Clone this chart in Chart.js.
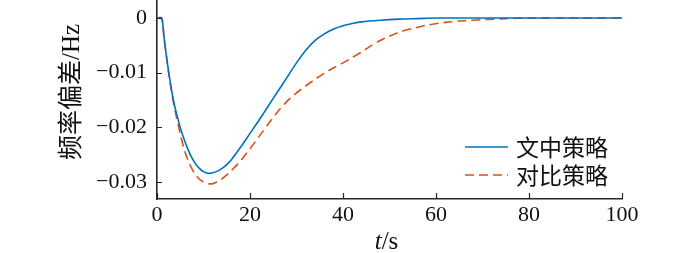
<!DOCTYPE html>
<html>
<head>
<meta charset="utf-8">
<script src="https://cdn.jsdelivr.net/npm/chart.js@4.4.1/dist/chart.umd.min.js"></script>
<style>
html,body{margin:0;padding:0;background:#fff;}
#wrap{width:700px;height:253px;position:relative;}
</style>
</head>
<body>
<div id="wrap"><canvas id="c" width="700" height="253"></canvas></div>
<script>
// ---- data ----
const seriesNames = ['文中策略', '对比策略'];
const blueT = [0,1,1.5,2,2.5,3,3.5,4,5,6,7,8,9,10,11,12,13,14,15,16,18,20,22,24,26,28,30,32,34,36,38,40,42,44,48,52,56,60,70,80,90,100];
const blueV = [0,0,-0.0035,-0.0068,-0.0098,-0.0125,-0.0149,-0.0168,-0.0200,-0.0226,-0.0247,-0.0263,-0.0274,-0.0281,-0.0284,-0.0283,-0.0280,-0.0275,-0.0268,-0.0259,-0.0236,-0.0211,-0.0186,-0.0160,-0.0134,-0.0108,-0.0082,-0.0059,-0.0041,-0.0029,-0.0020,-0.0014,-0.0010,-0.0007,-0.0004,-0.0002,-0.0001,0,0,0,0,0];
const redT = [0,1,1.5,2,2.5,3,3.5,4,5,6,7,8,9,10,11,12,13,14,15,16,18,20,22,24,26,28,30,32,34,36,38,40,42,44,46,48,50,52,55,58,62,66,70,75,80,90,100];
const redV = [0,0,-0.0035,-0.0069,-0.0100,-0.0128,-0.0153,-0.0174,-0.0212,-0.0244,-0.0267,-0.0283,-0.0294,-0.0300,-0.0303,-0.0303,-0.0299,-0.0294,-0.0287,-0.0279,-0.0261,-0.0239,-0.0216,-0.0193,-0.0171,-0.0152,-0.0137,-0.0124,-0.0112,-0.0101,-0.0091,-0.0082,-0.0072,-0.0062,-0.0051,-0.0041,-0.0033,-0.0026,-0.0019,-0.0013,-0.0008,-0.0005,-0.0003,-0.0001,0,0,0];
const xTicks = [0,20,40,60,80,100];
const yTicks = [-0.03,-0.02,-0.01,0];
const yTickLabels = ['\u22120.03','\u22120.02','\u22120.01','0'];
const yTitle = '频率偏差/Hz';
const xTitleItalic = 't';
const xTitleRest = '/s';

const toPts = (t, v) => t.map((x, i) => ({x: x, y: v[i]}));
const serif = "'Liberation Serif', 'Noto Sans CJK SC', serif";
const cjk = "'Noto Sans CJK SC', 'Liberation Serif', sans-serif";
const AX = '#262626';
const FS = 22;
const TS = 25;

const decor = {
  id: 'decor',
  afterDraw(chart) {
    const ctx = chart.ctx;
    const xs = chart.scales.x, ys = chart.scales.y;
    const ca = chart.chartArea;
    ctx.save();
    // inward ticks
    ctx.strokeStyle = AX; ctx.lineWidth = 1.2;
    ctx.beginPath();
    yTicks.forEach(v => {
      const py = Math.round(ys.getPixelForValue(v)) + 0.5;
      ctx.moveTo(ca.left, py); ctx.lineTo(ca.left + 5, py);
    });
    xTicks.forEach(v => {
      const px = Math.round(xs.getPixelForValue(v)) + 0.5;
      ctx.moveTo(px, ca.bottom); ctx.lineTo(px, ca.bottom - 6);
    });
    ctx.stroke();
    // y title
    ctx.fillStyle = '#111';
    ctx.save();
    ctx.translate(72, 92);
    ctx.rotate(-Math.PI / 2);
    ctx.font = TS + "px " + serif;
    ctx.textAlign = 'center'; ctx.textBaseline = 'middle';
    ctx.fillText(yTitle, 0, 0);
    ctx.restore();
    // x title
    ctx.font = "italic " + TS + "px " + serif;
    const w1 = ctx.measureText(xTitleItalic).width;
    ctx.font = TS + "px " + serif;
    const w2 = ctx.measureText(xTitleRest).width;
    const cx = (ca.left + ca.right) / 2 - 3;
    const x0 = cx - (w1 + w2) / 2;
    ctx.textBaseline = 'alphabetic'; ctx.textAlign = 'left';
    ctx.font = "italic " + TS + "px " + serif;
    ctx.fillText(xTitleItalic, x0, 249);
    ctx.font = TS + "px " + serif;
    ctx.fillText(xTitleRest, x0 + w1, 249);
    // legend
    const ds = chart.data.datasets;
    const rows = [147, 175];
    ds.forEach((d, i) => {
      const y = rows[i];
      ctx.strokeStyle = d.borderColor; ctx.lineWidth = d.borderWidth;
      ctx.setLineDash(d.borderDash || []);
      ctx.beginPath(); ctx.moveTo(ca.right - 157, y); ctx.lineTo(ca.right - 114, y); ctx.stroke();
      ctx.setLineDash([]);
      ctx.fillStyle = '#111';
      ctx.font = "23px " + cjk;
      ctx.textBaseline = 'middle';
      ctx.fillText(d.label, ca.right - 106, y);
    });
    ctx.restore();
  }
};

new Chart(document.getElementById('c'), {
  type: 'line',
  data: {
    datasets: [
      {label: seriesNames[0], data: toPts(blueT, blueV), borderColor: '#0072BD', borderWidth: 1.6, pointRadius: 0, tension: 0.3, fill: false},
      {label: seriesNames[1], data: toPts(redT, redV), borderColor: '#D95319', borderWidth: 1.6, borderDash: [9, 5], pointRadius: 0, tension: 0.3, fill: false}
    ]
  },
  options: {
    responsive: false,
    animation: false,
    devicePixelRatio: 1,
    layout: {padding: {left: 0, right: 78, top: 0, bottom: 0}},
    plugins: {legend: {display: false}, tooltip: {enabled: false}},
    scales: {
      x: {
        type: 'linear', min: 0, max: 100,
        afterBuildTicks: s => { s.ticks = xTicks.map(v => ({value: v})); },
        afterFit: s => { s.height = 54; s.paddingLeft = 0; s.paddingRight = 0; },
        grid: {display: false, drawTicks: false},
        border: {display: true, color: AX, width: 1.6},
        ticks: {color: '#111', font: {family: serif, size: FS}, padding: 3, maxRotation: 0}
      },
      y: {
        type: 'linear', min: -0.0331, max: 0.0033,
        afterBuildTicks: s => { s.ticks = yTicks.map(v => ({value: v})); },
        afterFit: s => { s.width = 157; s.paddingTop = 0; s.paddingBottom = 0; },
        grid: {display: false, drawTicks: false},
        border: {display: true, color: AX, width: 1.6},
        ticks: {color: '#111', font: {family: serif, size: FS}, padding: 10,
          callback: (v) => { const i = yTicks.findIndex(t => Math.abs(t - v) < 1e-9); return i >= 0 ? yTickLabels[i] : ''; }}
      }
    }
  },
  plugins: [decor]
});
</script>
</body>
</html>
